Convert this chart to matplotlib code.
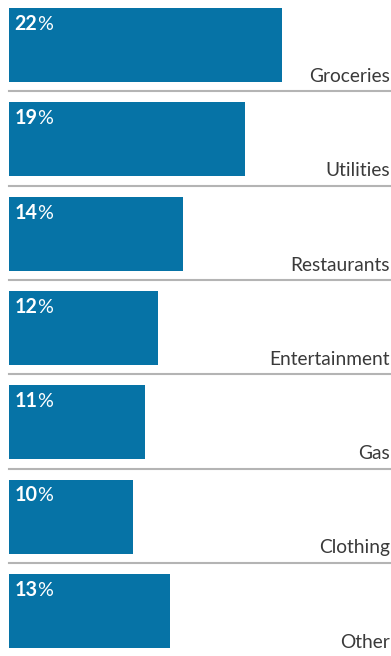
import numpy as np
import matplotlib
matplotlib.use("Agg")
import matplotlib.pyplot as plt

# Share of monthly spending by category
categories = ["Groceries", "Utilities", "Restaurants", "Entertainment", "Gas", "Clothing", "Other"]
shares = [22, 19, 14, 12, 11, 10, 13]

BAR_COLOR = "#0673a6"
TEXT_COLOR = "#3a3a3a"
RULE_COLOR = "#b4b4b4"
FONT = "Lato"

W, H, DPI = 391, 656, 100
fig = plt.figure(figsize=(W / DPI, H / DPI), dpi=DPI)
ax = fig.add_axes([0, 0, 1, 1])

# Horizontal scale: 12.4 px per percentage point, bars start 9 px from the left
px_per_pct = 12.4
left_px = 9
ax.set_xlim(-left_px / px_per_pct, (W - left_px) / px_per_pct)

# Vertical scale: one row per category, 94.3 px pitch
row_px = 94.3
first_center_px = 45
ax.set_ylim((H - first_center_px) / row_px, -first_center_px / row_px)

bar_h = 74 / row_px
ypos = np.arange(len(categories))
ax.barh(ypos, shares, height=bar_h, left=0, color=BAR_COLOR, edgecolor="none")

# Separator rules between rows
rule_offset = bar_h / 2 + 9.5 / row_px
for y in ypos[:-1]:
    ax.axhline(y + rule_offset, xmin=left_px / W, xmax=390 / W,
               color=RULE_COLOR, linewidth=1.5)

# Value labels sit on a baseline 22 px below the bar's top edge
value_baseline = 22 / row_px
for y, cat, val in zip(ypos, categories, shares):
    # Category name, right aligned on the bar's bottom edge
    ax.text(390 / W, y + bar_h / 2, cat, transform=ax.get_yaxis_transform(),
            ha="right", va="baseline", fontsize=13.8, family=FONT,
            color=TEXT_COLOR)
    # Value: bold number followed by a regular percent sign on one baseline
    yb = y - bar_h / 2 + value_baseline
    num = ax.text(5.5 / px_per_pct, yb, f"{val}",
                  ha="left", va="baseline", fontsize=14.2, family=FONT,
                  fontweight="bold", color="white")
    ax.annotate("%", xy=(1, yb), xycoords=(num, "data"),
                ha="left", va="baseline",
                fontsize=14.2, family=FONT, color="white")

ax.axis("off")
fig.savefig("out.png", dpi=DPI)
